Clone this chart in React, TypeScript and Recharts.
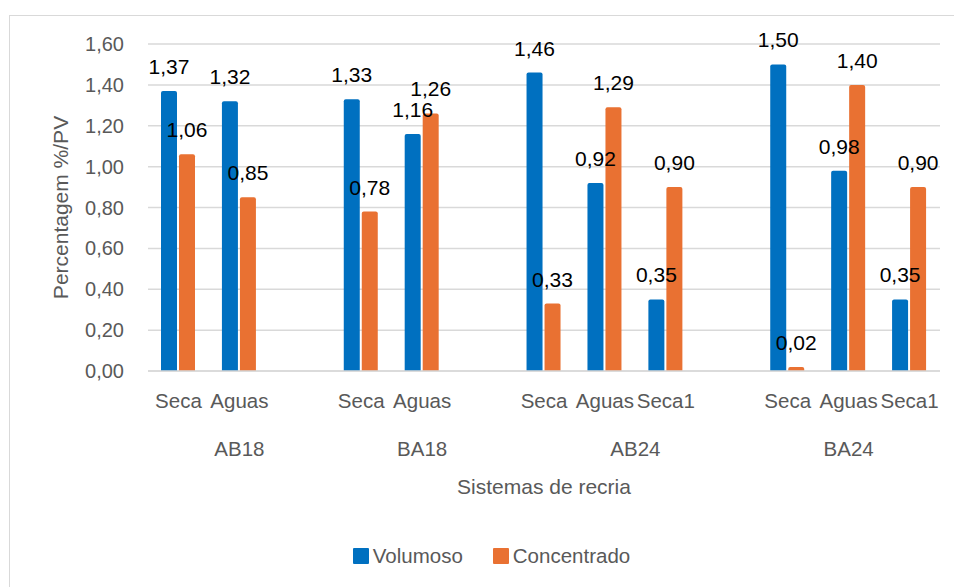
import React from "react";
import { BarChart, Bar, XAxis, YAxis, CartesianGrid, Legend, LabelList } from "recharts";

// Rearing systems and their seasons (empty slot = spacer between systems)
const groups = ["AB18", "BA18", "AB24", "BA24"];
const groupSizes = [3, 3, 4, 3];
const subcategories = ["Seca", "Aguas", "", "Seca", "Aguas", "", "Seca", "Aguas", "Seca1", "", "Seca", "Aguas", "Seca1"];

// Percentage of live weight (%/PV)
const volumoso = [1.37, 1.32, null, 1.33, 1.16, null, 1.46, 0.92, 0.35, null, 1.5, 0.98, 0.35];
const concentrado = [1.06, 0.85, null, 0.78, 1.26, null, 0.33, 1.29, 0.9, null, 0.02, 1.4, 0.9];

const yTicks = [0, 0.2, 0.4, 0.6, 0.8, 1.0, 1.2, 1.4, 1.6];

// pos = centre of each slot on a 0..N numeric scale (used by the system-name axis)
const data = subcategories.map((sub, i) => ({
  id: i,
  pos: i + 0.5,
  sub,
  Volumoso: volumoso[i],
  Concentrado: concentrado[i],
}));

// Centre of each system along the numeric slot scale
const totalSlots = subcategories.length;
const groupCenters: number[] = [];
{
  let start = 0;
  groupSizes.forEach((n) => {
    groupCenters.push(start + n / 2);
    start += n;
  });
}

const FONT = "'Liberation Sans', Arial, sans-serif";
const GREY = "#595959";
const BLUE = "#0070C0";
const ORANGE = "#E97132";

const series = [
  { key: "Volumoso", color: BLUE },
  { key: "Concentrado", color: ORANGE },
];

const fmt = (v: number) => v.toFixed(2).replace(".", ",");

const ValueLabel = (props: any) => {
  const { x, y, width, value } = props;
  if (value === null || value === undefined) return null;
  return (
    <text x={x + width / 2} y={y - 17} textAnchor="middle" fill="#000" fontSize={21} fontFamily={FONT}>
      {fmt(value)}
    </text>
  );
};

const SubTick = (props: any) => {
  const { x, y, payload } = props;
  return (
    <text x={x} y={y + 37} textAnchor="middle" fill={GREY} fontSize={20.5} fontFamily={FONT}>
      {subcategories[payload.value]}
    </text>
  );
};

const GroupTick = (props: any) => {
  const { x, y, payload } = props;
  const idx = groupCenters.indexOf(payload.value);
  return (
    <text x={x} y={y + 40} textAnchor="middle" fill={GREY} fontSize={20.5} fontFamily={FONT}>
      {groups[idx]}
    </text>
  );
};

const LegendContent = () => (
  <div style={{ display: "flex", justifyContent: "center", gap: 30, fontFamily: FONT, fontSize: 20.5, color: GREY }}>
    {series.map((s) => (
      <span key={s.key} style={{ display: "flex", alignItems: "center" }}>
        <span style={{ width: 16, height: 16, background: s.color, marginRight: 4, display: "inline-block", borderRadius: 1 }} />
        {s.key}
      </span>
    ))}
  </div>
);

export default function App() {
  return (
    <div style={{ position: "absolute", left: 0, top: 0, width: 954, height: 587, overflow: "hidden", background: "#fff" }}>
      <div
        style={{
          position: "absolute",
          left: 9,
          top: 15,
          width: 1000,
          height: 700,
          border: "1.5px solid #D9D9D9",
          boxSizing: "border-box",
        }}
      />
      <div style={{ position: "absolute", left: 0, top: 0 }}>
        <BarChart
          width={954}
          height={587}
          data={data}
          margin={{ top: 44, right: 14, left: 88, bottom: 71 }}
          barSize={16}
          barGap={2}
        >
          <CartesianGrid vertical={false} stroke="#D9D9D9" strokeWidth={1.5} />
          <XAxis
            dataKey="id"
            type="category"
            height={45}
            interval={0}
            tickLine={false}
            tickSize={0}
            tickMargin={0}
            axisLine={{ stroke: "#D9D9D9", strokeWidth: 1.5 }}
            tick={<SubTick />}
          />
          <XAxis
            xAxisId="grp"
            dataKey="pos"
            type="number"
            domain={[0, totalSlots]}
            allowDataOverflow
            ticks={groupCenters}
            interval={0}
            height={100}
            axisLine={false}
            tickLine={false}
            tickSize={0}
            tickMargin={0}
            tick={<GroupTick />}
            label={{
              content: (p: any) => {
                const vb = p.viewBox;
                return (
                  <text
                    x={vb.x + vb.width / 2}
                    y={vb.y + 78}
                    textAnchor="middle"
                    fill={GREY}
                    fontSize={21}
                    fontFamily={FONT}
                  >
                    Sistemas de recria
                  </text>
                );
              },
            }}
          />
          <YAxis
            width={60}
            domain={[0, 1.6]}
            ticks={yTicks}
            interval={0}
            axisLine={false}
            tickLine={false}
            tickMargin={18}
            tickFormatter={fmt}
            tick={{ fill: GREY, fontSize: 20, fontFamily: FONT }}
            label={{
              content: (p: any) => {
                const vb = p.viewBox;
                const cx = vb.x - 28;
                const cy = vb.y + vb.height / 2;
                return (
                  <text
                    x={cx}
                    y={cy}
                    transform={`rotate(-90, ${cx}, ${cy})`}
                    textAnchor="middle"
                    dominantBaseline="central"
                    fill={GREY}
                    fontSize={21}
                    fontFamily={FONT}
                  >
                    Percentagem %/PV
                  </text>
                );
              },
            }}
          />
          <Legend
            layout="horizontal"
            verticalAlign="middle"
            align="center"
            wrapperStyle={{ left: 0, top: 544, width: 983 }}
            content={<LegendContent />}
          />
          <Bar dataKey="Volumoso" fill={BLUE} isAnimationActive={false} radius={[2, 2, 0, 0]}>
            <LabelList dataKey="Volumoso" content={<ValueLabel />} />
          </Bar>
          <Bar dataKey="Concentrado" fill={ORANGE} isAnimationActive={false} radius={[2, 2, 0, 0]}>
            <LabelList dataKey="Concentrado" content={<ValueLabel />} />
          </Bar>
        </BarChart>
      </div>
    </div>
  );
}
